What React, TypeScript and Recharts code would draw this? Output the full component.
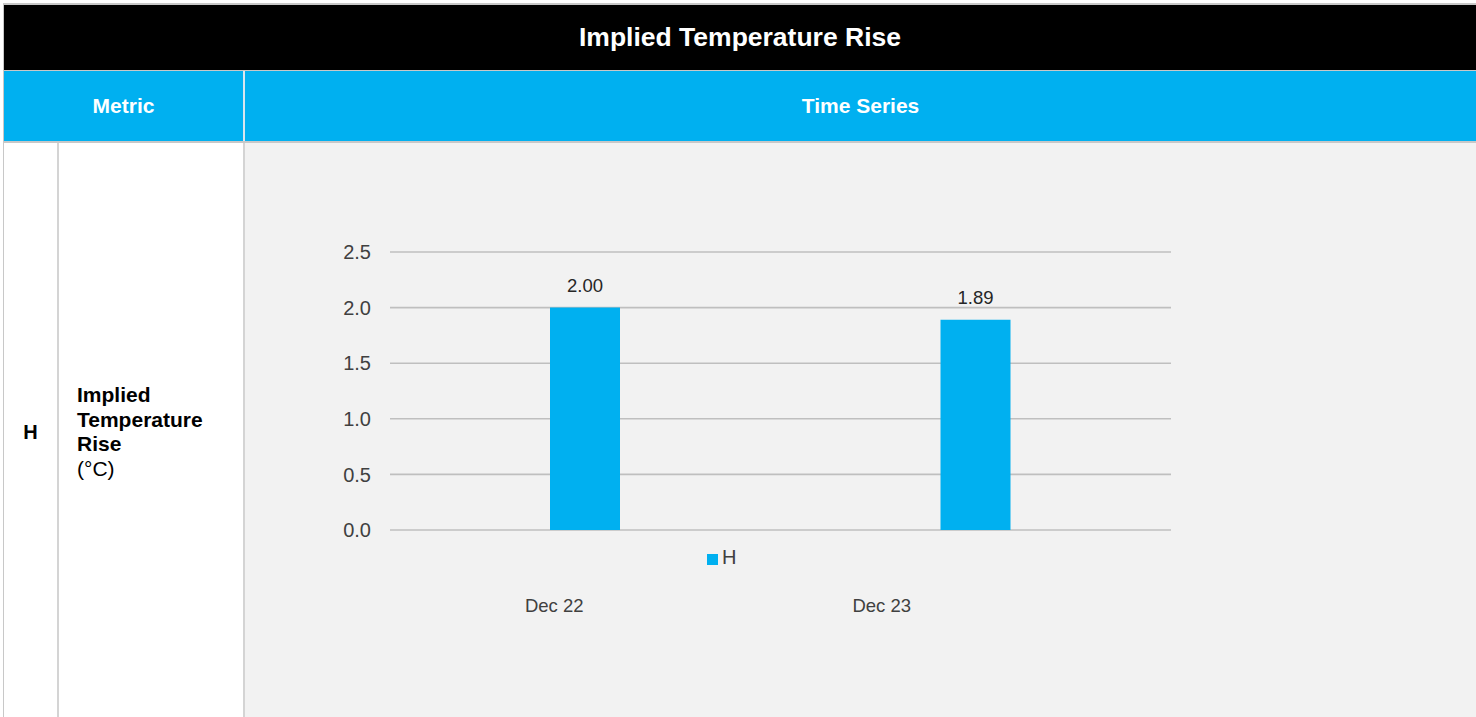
import React from "react";
import { BarChart, Bar, XAxis, YAxis, CartesianGrid, Legend, LabelList } from "recharts";

// chart values
const periods = ["Dec 22", "Dec 23"];
const seriesH = [2.0, 1.89];
const yTicks = [0, 0.5, 1.0, 1.5, 2.0, 2.5];

const data = periods.map((p, i) => ({ period: p, H: seriesH[i] }));

const FONT = "'Liberation Sans', Arial, Helvetica, sans-serif";
const BLUE = "#00b0f0";
const LINE = "#d4d4d4";

// the period labels in the source sit left of the bars, not under them
const tickShift = [-31, -94];

const PeriodTick = (props: any) => {
  const { x, y, payload, index } = props;
  return (
    <text
      x={x + (tickShift[index] ?? 0)}
      y={y + 74}
      textAnchor="middle"
      fill="#404040"
      fontSize={18.5}
      fontFamily={FONT}
    >
      {payload.value}
    </text>
  );
};

const App: React.FC = () => {
  return (
    <div style={{ position: "relative", width: 1476, height: 717, overflow: "hidden", background: "#fff", fontFamily: FONT }}>
      <style>{"body{margin:0}"}</style>

      {/* outer border */}
      <div style={{ position: "absolute", left: 3, top: 3, width: 1473, height: 2, background: "#c8c8c8" }} />
      <div style={{ position: "absolute", left: 3, top: 3, width: 1, height: 714, background: "#c8c8c8" }} />

      {/* title row */}
      <div
        style={{
          position: "absolute", left: 4, top: 5, width: 1472, height: 65, background: "#000",
          color: "#fff", fontWeight: "bold", fontSize: 26.5, display: "flex", alignItems: "center", justifyContent: "center",
        }}
      >
        Implied Temperature Rise
      </div>
      <div style={{ position: "absolute", left: 4, top: 70, width: 1472, height: 1, background: "#c8c8c8" }} />

      {/* header row */}
      <div style={{ position: "absolute", left: 4, top: 71, width: 1472, height: 70, background: BLUE }} />
      <div
        style={{
          position: "absolute", left: 4, top: 71, width: 239, height: 70, color: "#fff", fontWeight: "bold",
          fontSize: 21, display: "flex", alignItems: "center", justifyContent: "center",
        }}
      >
        Metric
      </div>
      <div style={{ position: "absolute", left: 243, top: 71, width: 2, height: 70, background: "#d9e6ee" }} />
      <div
        style={{
          position: "absolute", left: 245, top: 71, width: 1231, height: 70, color: "#fff", fontWeight: "bold",
          fontSize: 21, display: "flex", alignItems: "center", justifyContent: "center",
        }}
      >
        Time Series
      </div>
      <div style={{ position: "absolute", left: 4, top: 141, width: 1472, height: 2, background: "#c8c8c8" }} />

      {/* body row */}
      <div
        style={{
          position: "absolute", left: 4, top: 143, width: 53, height: 578, display: "flex",
          alignItems: "center", justifyContent: "center", fontWeight: "bold", fontSize: 20, color: "#000",
        }}
      >
        H
      </div>
      <div style={{ position: "absolute", left: 57, top: 143, width: 2, height: 578, background: LINE }} />
      <div
        style={{
          position: "absolute", left: 59, top: 143, width: 184, height: 578, display: "flex",
          alignItems: "center", fontSize: 21, lineHeight: "24.5px", color: "#000",
        }}
      >
        <div style={{ paddingLeft: 18 }}>
          <b>Implied<br />Temperature<br />Rise</b>
          <br />(°C)
        </div>
      </div>
      <div style={{ position: "absolute", left: 243, top: 143, width: 2, height: 578, background: LINE }} />
      <div style={{ position: "absolute", left: 245, top: 143, width: 1231, height: 578, background: "#f2f2f2" }}>
        <BarChart
          width={1231}
          height={574}
          data={data}
          margin={{ top: 109, right: 305, bottom: 133, left: 0 }}
        >
          <CartesianGrid vertical={false} stroke="#bfbfbf" strokeWidth={1.6} />
          <XAxis
            dataKey="period"
            axisLine={false}
            tickLine={false}
            height={30}
            interval={0}
            tick={<PeriodTick />}
          />
          <YAxis
            width={145}
            domain={[0, 2.5]}
            ticks={yTicks}
            axisLine={false}
            tickLine={false}
            tickMargin={13}
            tickFormatter={(v: number) => v.toFixed(1)}
            tick={{ fill: "#404040", fontSize: 20, fontFamily: FONT }}
          />
          <Legend
            iconType="square"
            iconSize={11}
            wrapperStyle={{ left: 462, top: 403, width: "auto", lineHeight: "22px" }}
            formatter={(value: string) => (
              <span style={{ color: "#404040", fontSize: 20, fontFamily: FONT }}>{value}</span>
            )}
          />
          <Bar dataKey="H" name="H" fill={BLUE} barSize={70} isAnimationActive={false}>
            <LabelList
              dataKey="H"
              position="top"
              offset={16}
              formatter={(v: number) => v.toFixed(2)}
              fill="#262626"
              fontSize={18.5}
              fontFamily={FONT}
            />
          </Bar>
        </BarChart>
      </div>
    </div>
  );
};

export default App;
